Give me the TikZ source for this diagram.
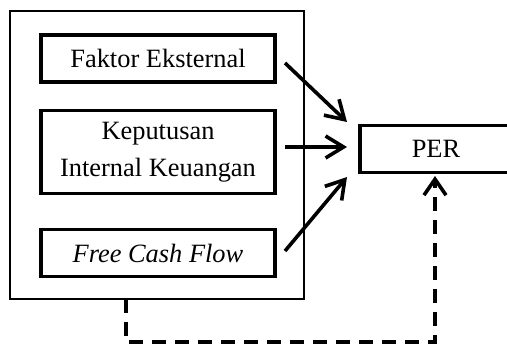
\documentclass[tikz,border=0pt]{standalone}
\usepackage{fontspec}
\setmainfont{Liberation Serif}
\usetikzlibrary{arrows.meta}
\begin{document}
\begin{tikzpicture}[x=0.5pt,y=-0.5pt,
  thickbox/.style={draw, line width=1.8pt, inner sep=0pt, align=center,
    font=\fontsize{13.2}{18.5}\selectfont},
  outerbox/.style={draw, line width=1pt},
  arr/.style={line width=1.8pt, -{Straight Barb[length=9pt,width=11pt,line width=1.8pt]}},
  darr/.style={line width=1.8pt, dash pattern=on 7pt off 4.5pt, -{Straight Barb[length=8pt,width=11pt,line width=1.8pt]}}]
\useasboundingbox (0,0) rectangle (507,346);
\draw[outerbox] (10,11) rectangle (304,299);
\coordinate (outerbottom) at (126,299);
\node[thickbox, minimum width=117pt, minimum height=23.5pt] (b1) at (158,58.5) {Faktor Eksternal};
\node[thickbox, minimum width=117pt, minimum height=41.5pt] (b2) at (158,152) {Keputusan\\Internal Keuangan};
\node[thickbox, minimum width=117pt, minimum height=23.5pt] (b3) at (158,253) {\itshape Free Cash Flow};
\node[thickbox, minimum width=76pt, minimum height=23.5pt] (per) at (436,149) {PER};
\coordinate (s1) at (285,63);
\coordinate (e1) at (347,122);
\coordinate (s2) at (285,147);
\coordinate (e2) at (347,147);
\coordinate (s3) at (285,251);
\coordinate (e3) at (347,177);
\coordinate (e4) at (435,176);
\coordinate (c4) at (126,342);
\draw[arr] (s1) -- (e1);
\draw[arr] (s2) -- (e2);
\draw[arr] (s3) -- (e3);
\draw[darr] (outerbottom) |- (c4 -| e4) -- (e4);
\end{tikzpicture}
\end{document}
